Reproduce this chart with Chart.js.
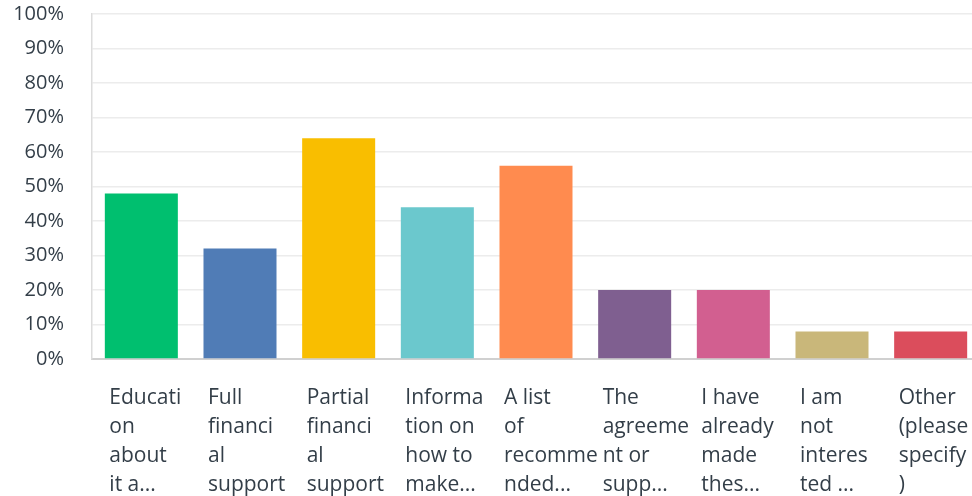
<!DOCTYPE html>
<html>
<head>
<meta charset="utf-8">
<script src="https://cdn.jsdelivr.net/npm/chart.js@4/dist/chart.umd.min.js"></script>
<style>
  html, body { margin: 0; padding: 0; background: #fff; overflow: hidden; width: 972px; height: 496px; }
  #wrap { width: 980px; height: 496px; }
</style>
</head>
<body>
<div id="wrap"><canvas id="c" width="980" height="496"></canvas></div>
<script>
const categories = [
  ["Educati", "on", "about", "it a..."],
  ["Full", "financi", "al", "support"],
  ["Partial", "financi", "al", "support"],
  ["Informa", "tion on", "how to", "make..."],
  ["A list", "of", "recomme", "nded..."],
  ["The", "agreeme", "nt or", "supp..."],
  ["I have", "already", "made", "thes..."],
  ["I am", "not", "interes", "ted ..."],
  ["Other", "(please", "specify", ")"]
];
const values = [48, 32, 64, 44, 56, 20, 20, 8, 8];
const barColors = ["#00BF6F", "#507CB6", "#F9BE00", "#6BC8CD", "#FF8B4F", "#7F5F90", "#D25F90", "#C9B77A", "#DB4D5C"];
const yTicks = [0, 10, 20, 30, 40, 50, 60, 70, 80, 90, 100];

const textColor = "#333e48";
const fontFamily = "'Open Sans', sans-serif";

function zeroPadding(s) {
  s.paddingTop = 0; s.paddingBottom = 0; s.paddingLeft = 0; s.paddingRight = 0;
}

new Chart(document.getElementById("c"), {
  type: "bar",
  data: {
    labels: categories,
    datasets: [{
      data: values,
      backgroundColor: barColors,
      borderWidth: 0,
      barPercentage: 0.74,
      categoryPercentage: 1.0
    }]
  },
  options: {
    responsive: false,
    animation: false,
    layout: { padding: { top: 14, right: 0, left: 0, bottom: 0 } },
    plugins: { legend: { display: false }, tooltip: { enabled: false } },
    scales: {
      x: {
        grid: { display: false, drawTicks: false },
        border: { display: true, color: "#d0d0d0", width: 2 },
        ticks: {
          autoSkip: false,
          maxRotation: 0,
          minRotation: 0,
          align: "start",
          labelOffset: -32,
          padding: 25,
          color: textColor,
          font: { family: fontFamily, size: 21, lineHeight: "29px" }
        },
        afterFit: (s) => { s.height = 137; zeroPadding(s); }
      },
      y: {
        min: 0,
        max: 100,
        afterBuildTicks: (s) => { s.ticks = yTicks.map(v => ({ value: v })); },
        grid: { color: "#ececec", lineWidth: 1.5, drawTicks: false },
        border: { display: true, color: "#dcdcdc", width: 1.5 },
        ticks: {
          padding: 28,
          color: textColor,
          font: { family: fontFamily, size: 20 },
          callback: (v) => v + "%"
        },
        afterFit: (s) => { s.width = 92; zeroPadding(s); }
      }
    }
  }
});
</script>
</body>
</html>
